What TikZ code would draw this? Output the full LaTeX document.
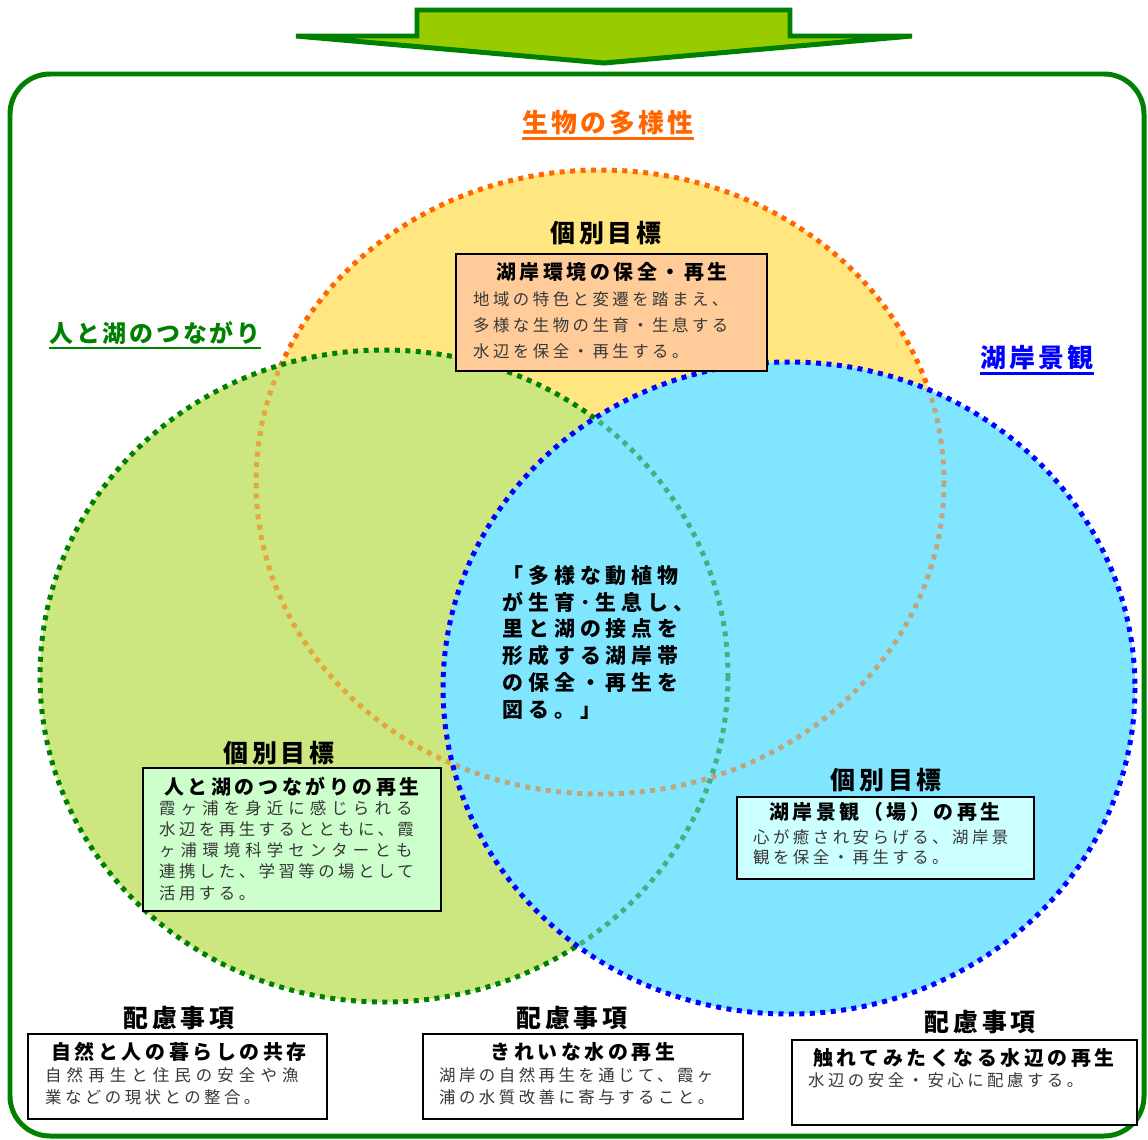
\documentclass[tikz,border=0pt]{standalone}
\usepackage{fontspec}
\setmainfont{Noto Sans CJK JP}
\newfontfamily\fLabel[LetterSpace=12]{Noto Sans CJK JP}
\newfontfamily\fHead[LetterSpace=16]{Noto Sans CJK JP}
\newfontfamily\fTitle[LetterSpace=18]{Noto Sans CJK JP}
\newfontfamily\fBody[LetterSpace=21]{Noto Sans CJK JP}
\newfontfamily\fBodyW[LetterSpace=31]{Noto Sans CJK JP}
\newfontfamily\fCenter[LetterSpace=24]{Noto Sans CJK JP}
\definecolor{frameg}{HTML}{008000}
\definecolor{arrowfill}{HTML}{99CC00}
\definecolor{labor}{HTML}{FF6600}
\definecolor{labgr}{HTML}{008000}
\definecolor{labbl}{HTML}{0000FF}
\definecolor{patyel}{HTML}{FFE680}
\definecolor{patgrn}{HTML}{CCE680}
\definecolor{patcya}{HTML}{80E6FF}
\definecolor{boxor}{HTML}{FFCC99}
\definecolor{boxgr}{HTML}{CCFFCC}
\definecolor{boxcy}{HTML}{CCFFFF}
\definecolor{bodyc}{HTML}{383838}
\tikzset{
  lbl/.style={font=\fLabel\bfseries\fontsize{26}{26}\selectfont, inner sep=0pt},
  head/.style={font=\fHead\bfseries\fontsize{25}{25}\selectfont, inner sep=0pt},
  ttl/.style={font=\fTitle\bfseries\fontsize{20}{20}\selectfont, inner sep=0pt},
  bodytxt/.style={font=\fBody\fontsize{16.5}{#1}\selectfont, text=bodyc, align=left, inner sep=0pt, anchor=north west},
  gbox/.style={draw=black, line width=1.8pt, anchor=north west, inner sep=0pt},
  ring/.style={line width=5pt, dash pattern=on 5pt off 5.5pt},
  uline/.style={line width=2.5pt},
  faded/.style={opacity=0.5},
}
\def\ellO{(600,482) ellipse [x radius=344, y radius=312]}
\def\ellG{(384,676) ellipse [x radius=344, y radius=326]}
\def\ellB{(789,688) ellipse [x radius=346, y radius=326]}
\begin{document}
\begin{tikzpicture}[x=1bp,y=-1bp]
\useasboundingbox (0,0) rectangle (1148,1140);
% frame
\draw[frameg, line width=5pt, rounded corners=40bp] (10,74) rectangle (1144,1136);
% top arrow
\draw[fill=arrowfill, draw=frameg, line width=5pt] (417,10) -- (790,10) -- (790,36) -- (912,36) -- (604,63) -- (296,36) -- (417,36) -- cycle;
% orange circle
\fill[patyel] \ellO;
\draw[ring, labor] \ellO;
% green circle
\fill[patgrn] \ellG;
\begin{scope}
  \clip \ellG;
  \draw[ring, labor, faded] \ellO;
\end{scope}
\draw[ring, labgr] \ellG;
% blue circle
\fill[patcya] \ellB;
\begin{scope}
  \clip \ellB;
  \draw[ring, labor, faded] \ellO;
  \draw[ring, labgr, faded] \ellG;
\end{scope}
\draw[ring, labbl] \ellB;
% circle labels
\node[lbl, text=labor] (lbio) at (608,123) {生物の多様性};
\draw[labor, uline] ([yshift=-3pt]lbio.south west) -- ([yshift=-3pt]lbio.south east);
\node[lbl, text=labgr, font=\fLabel\bfseries\fontsize{24}{24}\selectfont] (lhum) at (155,333) {人と湖のつながり};
\draw[labgr, uline] ([yshift=-3pt]lhum.south west) -- ([yshift=-3pt]lhum.south east);
\node[lbl, text=labbl] (lshore) at (1037,358) {湖岸景観};
\draw[labbl, uline] ([yshift=-3pt]lshore.south west) -- ([yshift=-3pt]lshore.south east);
% individual goal 1
\node[head] (h1) at (606,233) {個別目標};
\node[gbox, fill=boxor, minimum width=311bp, minimum height=117bp] (b1) at (455,253) {};
\node[ttl] (t1) at (612,272) {湖岸環境の保全・再生};
\node[bodytxt=26.5] (x1) at (473,291) {地域の特色と変遷を踏まえ、\\多様な生物の生育・生息する\\水辺を保全・再生する。};
% individual goal 2
\node[head] (h2) at (279,753) {個別目標};
\node[gbox, fill=boxgr, minimum width=298bp, minimum height=143bp] (b2) at (142,767) {};
\node[ttl] (t2) at (292,787) {人と湖のつながりの再生};
\node[bodytxt=21.3] (x2) at (159,800) {{\fBodyW 霞ヶ浦を身近に感じられる}\\水辺を再生するとともに、霞\\{\fBodyW ヶ浦環境科学センターとも}\\連携した、学習等の場として\\活用する。};
% individual goal 3
\node[head] (h3) at (886,780) {個別目標};
\node[gbox, fill=boxcy, minimum width=297bp, minimum height=82bp] (b3) at (736,796) {};
\node[ttl] (t3) at (885,812) {湖岸景観（場）の再生};
\node[bodytxt=20] (x3) at (753,829) {心が癒され安らげる、湖岸景\\観を保全・再生する。};
% center text
\node[font=\fCenter\bfseries\fontsize{21}{27}\selectfont, align=left, inner sep=0pt, anchor=north west] (ctr) at (502,565) {「多様な動植物\\が生育･生息し、\\里と湖の接点を\\形成する湖岸帯\\の保全・再生を\\図る。」};
% considerations
\node[head] (h4) at (179,1018) {配慮事項};
\node[gbox, fill=white, minimum width=299bp, minimum height=85bp] (b4) at (27,1033) {};
\node[ttl] (t4) at (179,1052) {自然と人の暮らしの共存};
\node[bodytxt=22] (x4) at (45,1067) {{\fBodyW 自然再生と住民の安全や漁}\\業などの現状との整合。};
\node[head] (h5) at (572,1018) {配慮事項};
\node[gbox, fill=white, minimum width=320bp, minimum height=85bp] (b5) at (422,1033) {};
\node[ttl] (t5) at (583,1052) {きれいな水の再生};
\node[bodytxt=22] (x5) at (439,1067) {湖岸の自然再生を通じて、霞ヶ\\浦の水質改善に寄与すること。};
\node[head] (h6) at (980,1022) {配慮事項};
\node[gbox, fill=white, minimum width=345bp, minimum height=85bp] (b6) at (791,1039) {};
\node[ttl] (t6) at (964,1058) {触れてみたくなる水辺の再生};
\node[bodytxt=22] (x6) at (808,1072) {水辺の安全・安心に配慮する。};
\end{tikzpicture}
\end{document}
